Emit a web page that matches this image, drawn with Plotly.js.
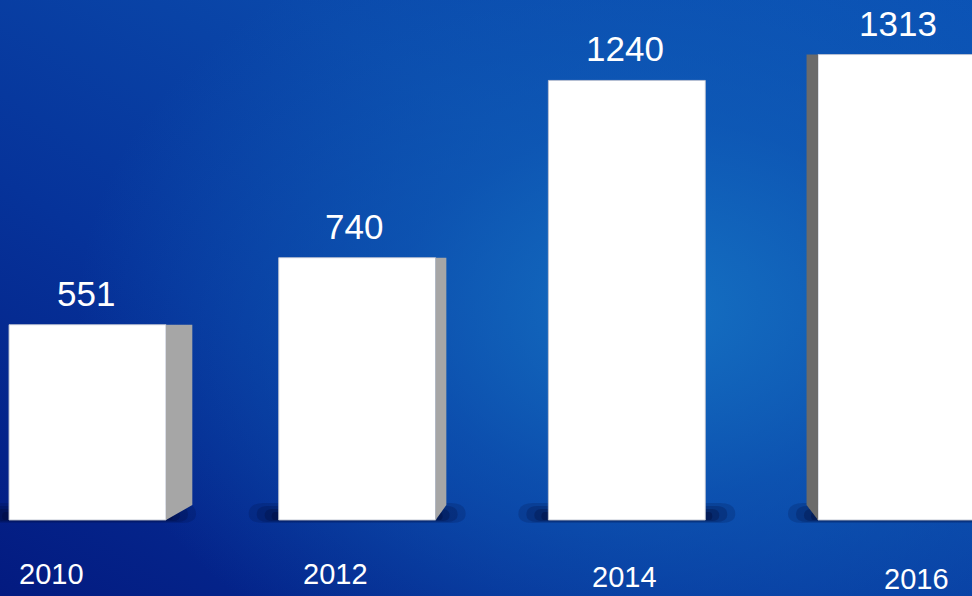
<!DOCTYPE html>
<html>
<head>
<meta charset="utf-8">
<script src="https://cdn.plot.ly/plotly-3.0.1.min.js"></script>
<style>
  html, body { margin: 0; padding: 0; overflow: hidden; }
  #chart {
    width: 972px; height: 596px;
    background:
      radial-gradient(ellipse 60% 70% at 68% 52%, rgba(22,116,196,0.9) 0%, rgba(16,96,186,0.6) 45%, rgba(12,80,175,0) 100%),
      linear-gradient(to top right, #031a80 0%, #06339a 35%, #0a48aa 65%, #0b52b5 100%);
  }
</style>
</head>
<body>
<div id="chart"></div>
<script>
// ---- data ----
const years  = [2010, 2012, 2014, 2016];
const values = [551, 740, 1240, 1313];
const valueLabels = ['551', '740', '1240', '1313'];
const yearLabels  = ['2010', '2012', '2014', '2016'];

// ---- geometry / style parameters ----
const W = 972, H = 596;
const barWidth = 1.164;             // in years
const xRange = [2009.351, 2016.560];
const yRange = [-214.4, 1466.9];
const pxPerYear = W / (xRange[1] - xRange[0]);
const pxPerUnit = H / (yRange[1] - yRange[0]);
const vanishX = 2013.95;           // perspective centre (data x)
const depthK = 0.058;              // side-face depth factor
const backDrop = 15 / pxPerUnit;   // bottom edge of side face recedes upward
const yearShiftX = [-36, -22, -2, 20];
const yearShiftY = [-36, -36, -39, -41];
const valShiftX = [-2, -3, -2, 1.5];

const traces = [];
const shapes = [];

// floor shadows (below bars)
years.forEach((yr, i) => {
  const xl = yr - barWidth / 2, xr = yr + barWidth / 2;
  const layers = [[30, 3, 20, 0.18], [22, 2, 16, 0.22], [14, 1, 12, 0.28], [7, 0, 8, 0.35]];
  layers.forEach(([ePx, bPx, hPx, a]) => {
    const e = ePx / pxPerYear;
    const b = -bPx / pxPerUnit, t = hPx / pxPerUnit;
    const xm = e * 0.5;
    const path = 'M' + (xl - e) + ',' + (b + t * 0.45) +
      ' Q' + (xl - e) + ',' + b + ' ' + (xl - xm) + ',' + b +
      ' L' + (xr + xm) + ',' + b +
      ' Q' + (xr + e) + ',' + b + ' ' + (xr + e) + ',' + (b + t * 0.45) +
      ' Q' + (xr + e) + ',' + (b + t) + ' ' + (xr + xm) + ',' + (b + t) +
      ' L' + (xl - xm) + ',' + (b + t) +
      ' Q' + (xl - e) + ',' + (b + t) + ' ' + (xl - e) + ',' + (b + t * 0.45) + ' Z';
    shapes.push({
      type: 'path', xref: 'x', yref: 'y', path: path, layer: 'below',
      fillcolor: 'rgba(0,10,55,' + a + ')', line: { width: 0 }
    });
  });
});

// side faces
years.forEach((yr, i) => {
  const xl = yr - barWidth / 2, xr = yr + barWidth / 2;
  const v = values[i];
  let edge = null, color = null;
  if (xr < vanishX) { edge = xr; color = '#a6a6a6'; }
  else if (xl > vanishX) { edge = xl; color = '#6b6b6b'; }
  if (edge === null) return;
  const dx = depthK * (vanishX - edge);
  traces.push({
    type: 'scatter', mode: 'lines', fill: 'toself',
    x: [edge, edge + dx, edge + dx, edge, edge],
    y: [0, backDrop, v, v, 0],
    line: { width: 0 },
    fillcolor: color,
    hoverinfo: 'skip', showlegend: false
  });
});

// front faces
traces.push({
  type: 'bar',
  x: years, y: values, width: barWidth,
  marker: { color: '#ffffff', line: { color: 'rgba(190,195,210,0.9)', width: 1 } },
  hoverinfo: 'skip', showlegend: false
});

const annotations = [];
years.forEach((yr, i) => {
  annotations.push({
    x: yr, y: values[i], xref: 'x', yref: 'y',
    text: valueLabels[i], showarrow: false,
    xanchor: 'center', yanchor: 'bottom',
    xshift: valShiftX[i], yshift: 10,
    font: { family: 'Liberation Sans, sans-serif', size: 35, color: '#ffffff' }
  });
  annotations.push({
    x: yr, y: 0, xref: 'x', yref: 'y',
    text: yearLabels[i], showarrow: false,
    xanchor: 'center', yanchor: 'top',
    xshift: yearShiftX[i], yshift: yearShiftY[i],
    font: { family: 'Liberation Sans, sans-serif', size: 29, color: '#ffffff' }
  });
});

const layout = {
  width: W, height: H,
  margin: { l: 0, r: 0, t: 0, b: 0 },
  paper_bgcolor: 'rgba(0,0,0,0)',
  plot_bgcolor: 'rgba(0,0,0,0)',
  xaxis: { range: xRange, visible: false, fixedrange: true },
  yaxis: { range: yRange, visible: false, fixedrange: true },
  annotations: annotations,
  shapes: shapes,
  showlegend: false
};

Plotly.newPlot('chart', traces, layout, { displayModeBar: false, staticPlot: true });
</script>
</body>
</html>
